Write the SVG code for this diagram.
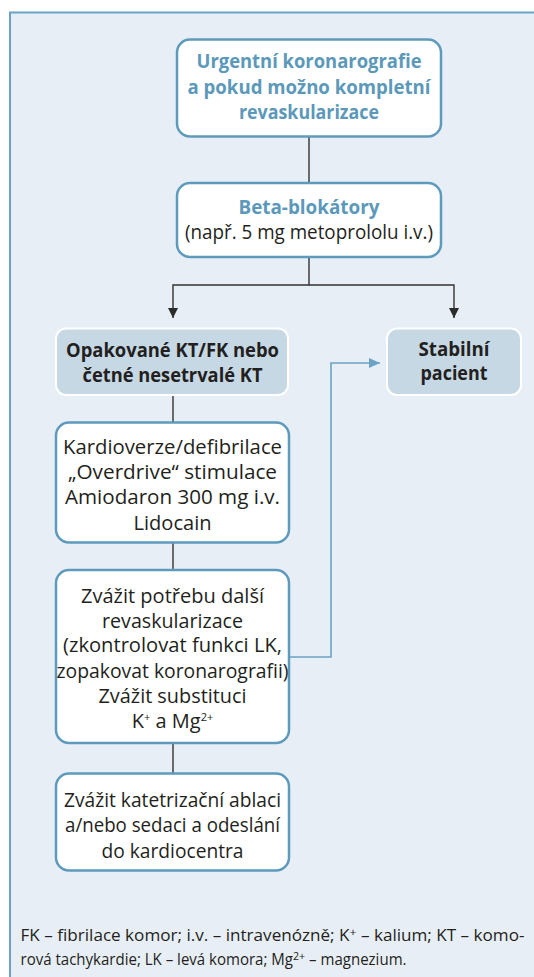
<svg xmlns="http://www.w3.org/2000/svg" width="534" height="977" viewBox="0 0 534 977">
  <style>
    .frame { fill: #e8eef6; stroke: #6aa3c5; stroke-width: 2; }
    .box { fill: #ffffff; stroke: #5e9abc; stroke-width: 2.5; }
    .gbox { fill: #c6d8e4; stroke: #ffffff; stroke-width: 2; }
    .t { font-family: "Open Sans", "Noto Sans", "Liberation Sans", sans-serif; font-size: 20px; text-anchor: middle; fill: #231f20; }
    .b { font-weight: bold; }
    .blue { fill: #5b98ba; }
    .note { font-family: "Open Sans", "Noto Sans", "Liberation Sans", sans-serif; font-size: 15.5px; fill: #231f20; }
    .sup { font-size: 11px; }
    .line { fill: none; stroke: #333333; stroke-width: 1.4; }
    .bline { fill: none; stroke: #6aa3c5; stroke-width: 1.6; }
  </style>
  <defs>
    <marker id="arrowK" markerUnits="userSpaceOnUse" markerWidth="10" markerHeight="11" refX="10" refY="5" orient="auto">
      <path d="M0,0 L10,5 L0,10 Z" fill="#2b2b2b"/>
    </marker>
    <marker id="arrowB" markerUnits="userSpaceOnUse" markerWidth="11" markerHeight="11" refX="11" refY="5" orient="auto">
      <path d="M0,0 L11,5 L0,10 Z" fill="#6aa3c5"/>
    </marker>
  </defs>

  <!-- panel background -->
  <rect class="frame" x="10" y="12.5" width="540" height="980"/>

  <!-- connectors -->
  <g id="connectors">
    <line class="line" x1="309" y1="137" x2="309" y2="183"/>
    <polyline class="line" points="309,257 309,285 173,285 173,318" marker-end="url(#arrowK)"/>
    <polyline class="line" points="309,285 454,285 454,318" marker-end="url(#arrowK)"/>
    <line class="line" x1="173" y1="395" x2="173" y2="422"/>
    <line class="line" x1="173" y1="543" x2="173" y2="570"/>
    <line class="line" x1="173" y1="743" x2="173" y2="773"/>
    <polyline class="bline" points="289,657 331,657 331,363 380,363" marker-end="url(#arrowB)"/>
  </g>

  <!-- coronary angiography -->
  <g id="n-koronarografie">
    <rect class="box" x="177" y="39.5" width="264" height="97" rx="13"/>
    <text class="t b blue" x="309" y="68" textLength="225" lengthAdjust="spacingAndGlyphs">Urgentní koronarografie</text>
    <text class="t b blue" x="309" y="94" textLength="243" lengthAdjust="spacingAndGlyphs">a pokud možno kompletní</text>
    <text class="t b blue" x="309" y="119" textLength="140" lengthAdjust="spacingAndGlyphs">revaskularizace</text>
  </g>

  <!-- beta blockers -->
  <g id="n-betablokatory">
    <rect class="box" x="177" y="183" width="264" height="74" rx="13"/>
    <text class="t b blue" x="309" y="214" textLength="141" lengthAdjust="spacingAndGlyphs">Beta-blokátory</text>
    <text class="t" x="309" y="239" textLength="248" lengthAdjust="spacingAndGlyphs">(např. 5 mg metoprololu i.v.)</text>
  </g>

  <!-- recurrent VT/VF -->
  <g id="n-opakovane">
    <rect class="gbox" x="56" y="328.5" width="232" height="66.5" rx="10"/>
    <text class="t b" x="172.5" y="357" textLength="213" lengthAdjust="spacingAndGlyphs">Opakované KT/FK nebo</text>
    <text class="t b" x="172.5" y="382" textLength="180" lengthAdjust="spacingAndGlyphs">četné nesetrvalé KT</text>
  </g>

  <!-- stable patient -->
  <g id="n-stabilni">
    <rect class="gbox" x="387" y="328.5" width="134" height="66.5" rx="10"/>
    <text class="t b" x="454" y="356" textLength="71" lengthAdjust="spacingAndGlyphs">Stabilní</text>
    <text class="t b" x="454" y="380" textLength="67" lengthAdjust="spacingAndGlyphs">pacient</text>
  </g>

  <!-- cardioversion -->
  <g id="n-kardioverze">
    <rect class="box" x="56" y="422.5" width="233" height="120" rx="13"/>
    <text class="t" x="172.5" y="453.5" textLength="219" lengthAdjust="spacingAndGlyphs">Kardioverze/defibrilace</text>
    <text class="t" x="172.5" y="479" textLength="209" lengthAdjust="spacingAndGlyphs">„Overdrive“ stimulace</text>
    <text class="t" x="172.5" y="504" textLength="215" lengthAdjust="spacingAndGlyphs">Amiodaron 300 mg i.v.</text>
    <text class="t" x="172.5" y="529.5" textLength="78" lengthAdjust="spacingAndGlyphs">Lidocain</text>
  </g>

  <!-- further revascularization -->
  <g id="n-revaskularizace">
    <rect class="box" x="56" y="570" width="233" height="173" rx="13"/>
    <text class="t" x="172.5" y="603" textLength="183" lengthAdjust="spacingAndGlyphs">Zvážit potřebu další</text>
    <text class="t" x="172.5" y="627.5" textLength="141" lengthAdjust="spacingAndGlyphs">revaskularizace</text>
    <text class="t" x="172.5" y="652" textLength="219" lengthAdjust="spacingAndGlyphs">(zkontrolovat funkci LK,</text>
    <text class="t" x="172.5" y="677.5" textLength="232" lengthAdjust="spacingAndGlyphs">zopakovat koronarografii)</text>
    <text class="t" x="172.5" y="703" textLength="148" lengthAdjust="spacingAndGlyphs">Zvážit substituci</text>
    <text class="t" x="172.5" y="728">K<tspan class="sup" dy="-7">+</tspan><tspan dy="7"> a Mg</tspan><tspan class="sup" dy="-7">2+</tspan></text>
  </g>

  <!-- catheter ablation -->
  <g id="n-ablace">
    <rect class="box" x="56" y="773.5" width="233" height="97" rx="13"/>
    <text class="t" x="172.5" y="806.5" textLength="217" lengthAdjust="spacingAndGlyphs">Zvážit katetrizační ablaci</text>
    <text class="t" x="172.5" y="832" textLength="215" lengthAdjust="spacingAndGlyphs">a/nebo sedaci a odeslání</text>
    <text class="t" x="172.5" y="857.5" textLength="142" lengthAdjust="spacingAndGlyphs">do kardiocentra</text>
  </g>

  <!-- abbreviations -->
  <g id="legend">
    <text class="note" x="20.5" y="941" textLength="504" lengthAdjust="spacingAndGlyphs">FK – fibrilace komor; i.v. – intravenózně; K<tspan class="sup" dy="-5">+</tspan><tspan dy="5"> – kalium; KT – komo-</tspan></text>
    <text class="note" x="20.5" y="965" textLength="386" lengthAdjust="spacingAndGlyphs">rová tachykardie; LK – levá komora; Mg<tspan class="sup" dy="-5">2+</tspan><tspan dy="5"> – magnezium.</tspan></text>
  </g>
</svg>
